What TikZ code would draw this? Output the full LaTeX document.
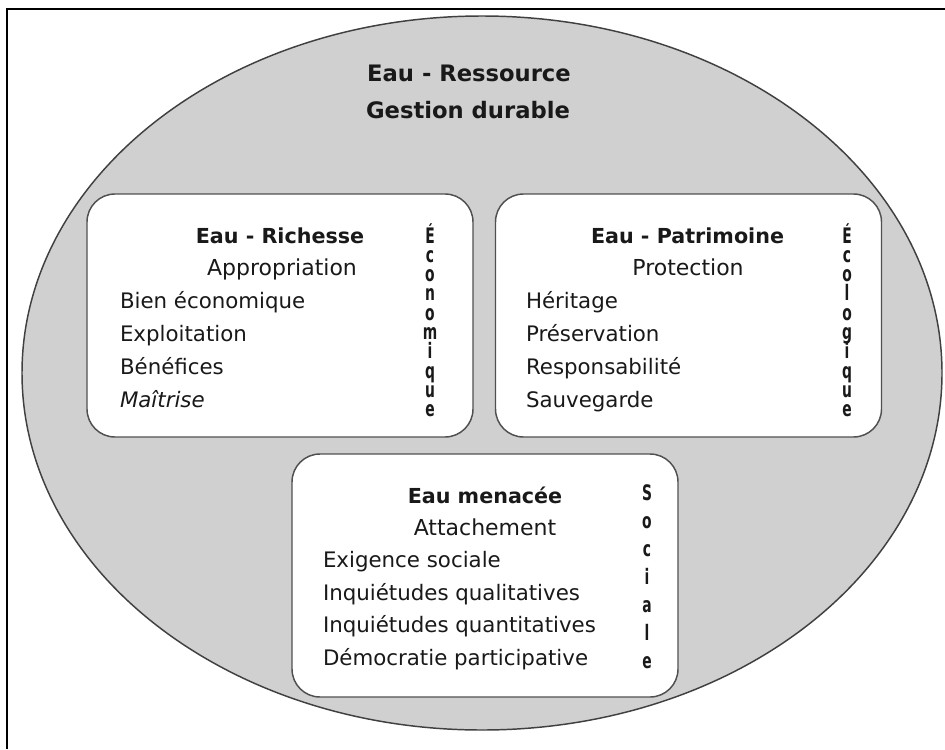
\documentclass[tikz,border=0pt]{standalone}
\usepackage{fontspec}
\setmainfont{DejaVu Sans}
\definecolor{ellfill}{RGB}{208,208,208}
\definecolor{ellline}{RGB}{64,64,64}
\definecolor{boxline}{RGB}{80,80,80}
\definecolor{ink}{RGB}{25,25,25}
\begin{document}
\begin{tikzpicture}[x=0.75pt,y=-0.75pt,
  every node/.style={inner sep=0pt,outer sep=0pt,text=ink},
  panel/.style={draw=boxline,line width=1.1pt,fill=white,rounded corners=21pt,
                minimum width=289.5pt,minimum height=182.25pt},
  bigline/.style={font=\bfseries\fontsize{17}{20}\selectfont,anchor=base},
  headline/.style={font=\bfseries\fontsize{15.5}{18}\selectfont,anchor=base},
  subline/.style={font=\fontsize{16.5}{19}\selectfont,anchor=base},
  itemline/.style={font=\fontsize{16}{19}\selectfont,anchor=base west},
  vletter/.style={font=\bfseries\fontsize{16}{19}\selectfont,anchor=base}
]
\useasboundingbox (0,0) rectangle (945,749);

% outer frame
\draw[line width=1.1pt] (7,749) -- (7,9) -- (945,9);

% the resource ellipse
\path[fill=ellfill,draw=ellline,line width=1.1pt]
  (482,373) ellipse [x radius=345pt,y radius=267.75pt];

\node[bigline] (res1) at (469,82) {Eau - Ressource};
\node[bigline] (res2) at (468,118) {Gestion durable};

% economic panel
\node[panel] (richesse) at (280,315.5) {};
\node[headline] (ri0) at (280,243) {Eau - Richesse};
\node[subline] (ri1) at (282,275) {Appropriation};
\node[itemline] (ri2) at (120,308) {Bien économique};
\node[itemline] (ri3) at (120,341) {Exploitation};
\node[itemline] (ri4) at (120,374) {Bénéfices};
\node[itemline,font=\itshape\fontsize{16}{19}\selectfont] (ri5) at (120,407) {Maîtrise};
\foreach \l [count=\i] in {É,c,o,n,o,m,i,q,u,e}
  \node[vletter] (eco\i) at (430,{243+19.33*(\i-1)}) {\scalebox{0.65}[1]{\l}};

% ecological panel
\node[panel] (patrimoine) at (688.5,315.5) {};
\node[headline] (pa0) at (687.5,243) {Eau - Patrimoine};
\node[subline] (pa1) at (688,275) {Protection};
\node[itemline] (pa2) at (526,308) {Héritage};
\node[itemline] (pa3) at (526,341) {Préservation};
\node[itemline] (pa4) at (526,374) {Responsabilité};
\node[itemline] (pa5) at (526,407) {Sauvegarde};
\foreach \l [count=\i] in {É,c,o,l,o,g,i,q,u,e}
  \node[vletter] (ecl\i) at (847,{243+19.33*(\i-1)}) {\scalebox{0.65}[1]{\l}};

% social panel
\node[panel] (menacee) at (485,575.5) {};
\node[headline] (me0) at (485,503) {Eau menacée};
\node[subline] (me1) at (485,535) {Attachement};
\node[itemline] (me2) at (323,567) {Exigence sociale};
\node[itemline] (me3) at (323,600) {Inquiétudes qualitatives};
\node[itemline] (me4) at (323,632) {Inquiétudes quantitatives};
\node[itemline] (me5) at (323,665) {Démocratie participative};
\foreach \l [count=\i] in {S,o,c,i,a,l,e}
  \node[vletter] (soc\i) at (647,{500+28*(\i-1)}) {\scalebox{0.65}[1]{\l}};
\end{tikzpicture}
\end{document}
